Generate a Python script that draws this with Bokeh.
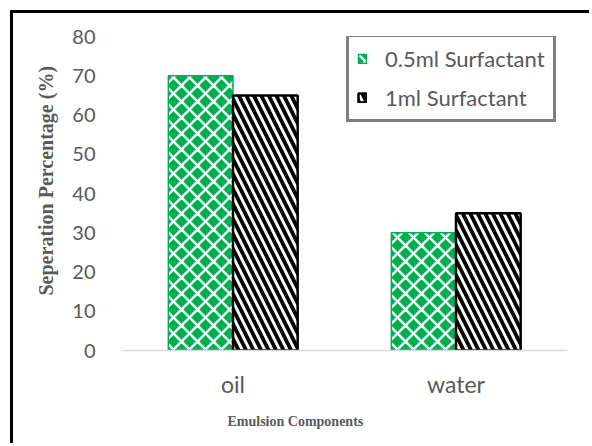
from bokeh.embed import file_html
from bokeh.models import (ColumnDataSource, FixedTicker, Legend, LegendItem,
                          Range1d, Title)
from bokeh.plotting import figure
from bokeh.resources import INLINE
from bokeh.transform import dodge

# --- data -------------------------------------------------------------
categories = ["oil", "water"]
surfactant_05 = [70, 30]   # 0.5ml Surfactant
surfactant_1 = [65, 35]    # 1ml Surfactant
y_ticks = [0, 10, 20, 30, 40, 50, 60, 70, 80]

GREEN = "#00B050"
GREY = "#595959"

source = ColumnDataSource(dict(cat=categories, s05=surfactant_05, s1=surfactant_1))

p = figure(x_range=categories, y_range=Range1d(0, 80),
           width=579, height=433,
           output_backend="svg", toolbar_location=None,
           min_border_left=108, min_border_right=25,
           min_border_top=23, min_border_bottom=96)
p.styles = {"margin-left": "10px", "margin-top": "10px",
            "border-left": "3px solid #000", "border-top": "3px solid #000"}
p.outline_line_color = None
p.background_fill_color = "white"
p.border_fill_color = "white"
p.xgrid.visible = False
p.ygrid.visible = False

bar_w = 0.29
# green diamonds: green fill cut by a white diagonal lattice
r1 = p.vbar(x=dodge("cat", -bar_w / 2, range=p.x_range), top="s05", width=bar_w,
            source=source, fill_color=GREEN, line_color=GREEN, line_width=1.5,
            hatch_pattern="diagonal_cross", hatch_color="white",
            hatch_scale=16, hatch_weight=2.5)
# black "\" stripes on white
r2 = p.vbar(x=dodge("cat", bar_w / 2, range=p.x_range), top="s1", width=bar_w,
            source=source, fill_color="white", line_color="black", line_width=2.5,
            hatch_pattern="left_diagonal_line", hatch_color="black",
            hatch_scale=15, hatch_weight=3.8)

# axes
xa = p.xaxis[0]
xa.axis_line_color = "#d9d9d9"
xa.axis_line_width = 1.5
xa.major_tick_line_color = None
xa.minor_tick_line_color = None
xa.major_label_text_font = "Lato"
xa.major_label_text_font_size = "23px"
xa.major_label_text_color = GREY
xa.major_label_standoff = 13

ya = p.yaxis[0]
ya.ticker = FixedTicker(ticks=y_ticks)
ya.axis_line_color = None
ya.major_tick_line_color = None
ya.minor_tick_line_color = None
ya.major_label_text_font = "Lato"
ya.major_label_text_font_size = "20px"
ya.major_label_text_color = GREY
ya.major_label_standoff = 20

# axis titles
p.add_layout(Title(text="Emulsion Components", align="left", offset=106,
                   text_font="Liberation Serif", text_font_style="bold",
                   text_font_size="14px", text_color=GREY, standoff=23), "below")
p.add_layout(Title(text="Seperation Percentage (%)", align="left", offset=55,
                   text_font="Liberation Serif", text_font_style="bold",
                   text_font_size="20px", text_color=GREY, standoff=26), "left")

legend = Legend(items=[LegendItem(label="0.5ml Surfactant", renderers=[r1]),
                       LegendItem(label="1ml Surfactant", renderers=[r2])],
                location=(225, 228),
                border_line_color="black", border_line_width=3,
                background_fill_color="white", background_fill_alpha=1,
                padding=8, spacing=12, glyph_width=10, glyph_height=11,
                label_standoff=18, label_text_font="Lato",
                label_text_font_size="22px", label_text_color=GREY)
p.add_layout(legend)

open("out.html", "w").write(file_html(p, INLINE))
